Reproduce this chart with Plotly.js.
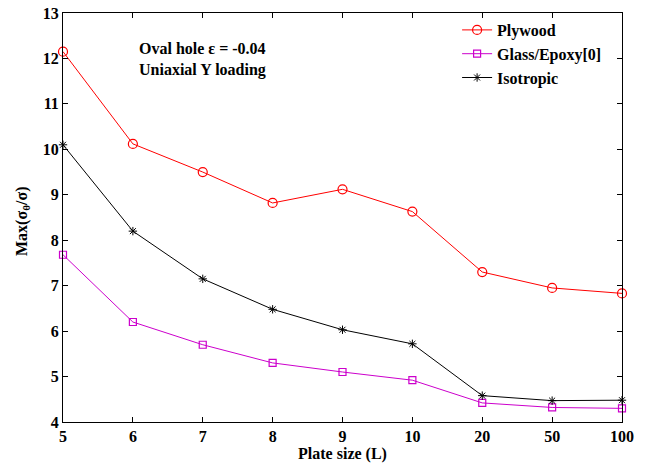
<!DOCTYPE html>
<html><head><meta charset="utf-8">
<script src="https://cdn.plot.ly/plotly-3.0.1.min.js"></script>
<style>body{margin:0;background:#fff}#c{width:646px;height:466px}</style>
</head><body><div id="c"></div>
<script>
var plateSize = ['5','6','7','8','9','10','20','50','100'];
var plywood = [12.15, 10.12, 9.5, 8.82, 9.12, 8.63, 7.3, 6.95, 6.83];
var glassEpoxy = [7.68, 6.2, 5.7, 5.3, 5.1, 4.92, 4.42, 4.32, 4.3];
var isotropic = [10.1, 8.2, 7.15, 6.48, 6.03, 5.72, 4.58, 4.47, 4.48];
var yTicks = [4,5,6,7,8,9,10,11,12,13];

var F = 'Liberation Serif, Times New Roman, serif';
var traces = [
 {x: plateSize, y: plywood, name: 'Plywood', mode: 'lines+markers', cliponaxis: false,
  line: {color: '#ff0000', width: 1}, marker: {symbol: 'circle-open', size: 9, color: '#ff0000', line: {width: 1.2}}},
 {x: plateSize, y: glassEpoxy, name: 'Glass/Epoxy[0]', mode: 'lines+markers', cliponaxis: false,
  line: {color: '#cc00cc', width: 1}, marker: {symbol: 'square-open', size: 7, color: '#cc00cc', line: {width: 1.2}}},
 {x: plateSize, y: isotropic, name: 'Isotropic', mode: 'lines+markers', cliponaxis: false,
  line: {color: '#000000', width: 1}, marker: {symbol: 'asterisk-open', size: 7, color: '#000000', line: {width: 1}}}
];
var axisCommon = {showline: true, linecolor: '#000', linewidth: 1, mirror: 'ticks', ticks: 'inside', ticklen: 5,
  tickcolor: '#000', showgrid: false, zeroline: false, tickfont: {family: F, size: 16, color: '#000', weight: 'bold'}};
var layout = {
 width: 646, height: 466, paper_bgcolor: '#fff', plot_bgcolor: '#fff',
 margin: {l: 63, r: 24, t: 13, b: 44},
 showlegend: true,
 legend: {x: 0.705, y: 1.0, xanchor: 'left', yanchor: 'top', bgcolor: 'rgba(0,0,0,0)',
  font: {family: F, size: 16, color: '#000', weight: 'bold'}, tracegroupgap: 0},
 xaxis: Object.assign({}, axisCommon, {type: 'category', range: [0, 8],
  title: {text: '<b>Plate size (L)</b>', font: {family: F, size: 16, color: '#000'}, standoff: 2}}),
 yaxis: Object.assign({}, axisCommon, {range: [4, 13], tickvals: yTicks, ticktext: yTicks.map(String),
  title: {text: '', font: {family: F, size: 16, color: '#000'}}}),
 annotations: [
  {xref: 'paper', yref: 'paper', x: (137-63)/559, y: (422-48)/409, xanchor: 'left', yanchor: 'middle', showarrow: false,
   text: '<b>Oval hole ε = -0.04</b>', font: {family: F, size: 16, color: '#000'}},
  {xref: 'paper', yref: 'paper', x: (137-63)/559, y: (422-70)/409, xanchor: 'left', yanchor: 'middle', showarrow: false,
   text: '<b>Uniaxial Y loading</b>', font: {family: F, size: 16, color: '#000'}},
  {xref: 'paper', yref: 'paper', x: (22-63)/559, y: (422-222)/409, xanchor: 'center', yanchor: 'middle', showarrow: false,
   textangle: -90, text: '<b>Max(σ<sub>θ</sub>/σ)</b>', font: {family: F, size: 16, color: '#000'}}
 ]
};
Plotly.newPlot('c', traces, layout, {displayModeBar: false, staticPlot: true});
</script></body></html>
